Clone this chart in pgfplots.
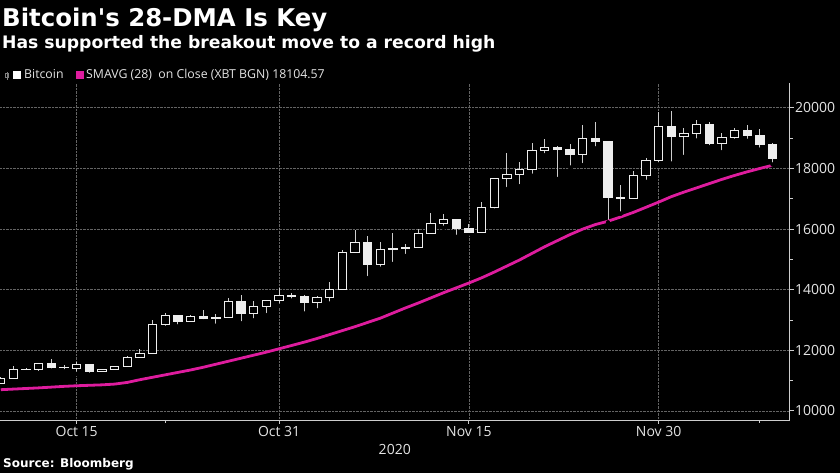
\documentclass[border=0pt]{standalone}
\usepackage{fontspec}
\usepackage{pgfplots}
\usepackage{pgfplotstable}
\pgfplotsset{compat=1.18}
\newfontfamily\dejavu{DejaVu Sans}
\newfontfamily\osans{Open Sans}
\definecolor{macol}{RGB}{222,28,158}
\definecolor{wickcol}{RGB}{205,205,205}
\definecolor{bodycol}{RGB}{238,238,238}
\definecolor{gridcol}{RGB}{100,100,100}
\definecolor{axiscol}{RGB}{205,205,205}
\definecolor{labcol}{RGB}{228,228,228}

\pgfplotstableread{
d o h l c ma
9 10900 11120 10850 11060 10700
10 11060 11470 11040 11360 10720
11 11360 11420 11300 11380 10740
12 11380 11580 11250 11550 10760
13 11550 11720 11330 11420 10785
14 11420 11520 11310 11430 10810
15 11400 11610 11220 11530 10830
16 11520 11560 11190 11300 10845
17 11300 11390 11280 11350 10860
18 11350 11480 11330 11450 10885
19 11450 11820 11420 11750 10940
20 11750 12050 11700 11910 11030
21 11910 12990 11880 12850 11110
22 12850 13230 12740 13140 11190
23 13140 13180 12790 12960 11270
24 12960 13180 12920 13120 11350
25 13120 13320 12960 13050 11440
26 13050 13210 12810 13070 11540
27 13070 13730 13040 13600 11640
28 13600 13840 12890 13230 11740
29 13230 13620 12990 13460 11840
30 13460 13660 13160 13630 11940
31 13630 14070 13470 13820 12050
32 13820 13900 13640 13790 12160
33 13790 13820 13210 13580 12270
34 13580 13780 13320 13740 12390
35 13740 14250 13540 14000 12520
36 14000 15300 13970 15240 12650
37 15240 15980 15200 15560 12780
38 15560 15760 14380 14820 12920
39 14820 15580 14690 15320 13060
40 15320 15870 14850 15370 13230
41 15370 15520 15110 15390 13400
42 15390 16010 15360 15850 13560
43 15850 16530 15800 16170 13730
44 16170 16500 16040 16310 13900
45 16310 16330 15740 16030 14060
46 16030 16170 15850 15880 14220
47 15880 16900 15850 16720 14390
48 16720 17700 16610 17670 14580
49 17670 18500 17320 17800 14780
50 17800 18200 17410 17950 14980
51 17950 18850 17760 18600 15200
52 18600 18980 18440 18690 15420
53 18690 18750 17650 18630 15620
54 18630 18800 18030 18450 15820
55 18450 19450 18110 18980 16000
56 18980 19530 18660 18900 16150
57 18900 18920 16220 17050 16260
58 17050 17450 16510 17020 16400
59 17020 17910 16940 17770 16550
60 17770 18350 17560 18270 16720
61 18270 19860 18130 19390 16890
62 19390 19910 18160 19070 17070
63 19070 19320 18380 19160 17220
64 19160 19610 18920 19460 17360
65 19460 19530 18700 18810 17500
66 18810 19180 18540 19030 17640
67 19030 19340 18910 19240 17770
68 19240 19430 18910 19080 17890
69 19080 19290 18620 18780 18000
70 18780 18850 18130 18320 18105
}\btc

\pgfplotsset{
  basebox/.style={
    at={(0pt,53pt)}, anchor=south west, scale only axis,
    width=789.5pt, height=337pt,
    xmin=8.94, xmax=71.34, ymin=9700, ymax=20820,
    enlargelimits=false, scaled y ticks=false, scaled x ticks=false,
  }
}

\begin{document}
\begin{tikzpicture}
\fill[black] (0pt,0pt) rectangle (840pt,473pt);

\begin{axis}[basebox,
  axis x line*=bottom, axis y line*=right,
  axis line style={draw=axiscol, line width=0.9pt, -},
  xtick={15,31,46,61},
  xticklabels={Oct 15,Oct 31,Nov 15,Nov 30},
  minor xtick={22,69},
  ytick={10000,12000,14000,16000,18000,20000},
  yticklabels={10000,12000,14000,16000,18000,20000},
  minor ytick={11000,13000,15000,17000,19000},
  grid=major,
  major grid style={densely dotted, draw=gridcol, line width=0.7pt},
  tick style={draw=axiscol, line width=0.9pt},
  tick align=outside,
  major tick length=4pt, minor tick length=3pt,
  ticklabel style={font=\osans\fontsize{14}{16}\selectfont, text=labcol},
  yticklabel style={anchor=west, xshift=-2pt},
  xticklabel style={anchor=north, yshift=1.5pt},
  xlabel={2020},
  xlabel style={font=\osans\fontsize{14}{16}\selectfont, text=labcol, yshift=-1pt},
]
\addplot[only marks, mark=none, forget plot,
  error bars/.cd, y dir=plus, y explicit, error mark=none,
  error bar style={draw=wickcol, line width=1pt, solid}]
  table[x=d, y=l, y error expr={\thisrow{h}-\thisrow{l}}] {\btc};
\addplot[macol, line width=2.8pt, mark=none] table[x=d, y=ma] {\btc};
\end{axis}

\begin{axis}[basebox, hide axis, ybar stacked, bar width=0.66]
\addplot[draw=none, fill=none] table[x=d, y expr={min(\thisrow{o},\thisrow{c})}] {\btc};
\addplot[draw=bodycol, fill=black, line width=1pt] table[x=d, y expr={max(\thisrow{c}-\thisrow{o},0)}] {\btc};
\addplot[draw=bodycol, fill=bodycol, line width=1pt] table[x=d, y expr={max(\thisrow{o}-\thisrow{c},0)}] {\btc};
\end{axis}

\node[anchor=base west, inner sep=0, text=white, font=\dejavu\bfseries\fontsize{24.4}{28}\selectfont] at (2pt,446pt) {Bitcoin's 28-DMA Is Key};
\node[anchor=base west, inner sep=0, text=white, font=\dejavu\bfseries\fontsize{17.2}{20}\selectfont] at (2pt,424pt) {Has supported the breakout move to a record high};
% legend
\draw[gray, line width=0.6pt] (7pt,393pt) -- (7pt,401pt);
\draw[gray, line width=0.6pt] (5.5pt,396pt) rectangle (8.5pt,399.5pt);
\fill[white] (13pt,394pt) rectangle (21pt,402pt);
\node[anchor=base west, inner sep=0, text=labcol, font=\osans\fontsize{12.3}{14}\selectfont] at (24pt,394pt) {Bitcoin};
\fill[macol] (76pt,394pt) rectangle (84pt,402pt);
\node[anchor=base west, inner sep=0, text=labcol, font=\osans\fontsize{12.3}{14}\selectfont] at (86pt,394pt) {SMAVG (28)\ \ on Close (XBT BGN) 18104.57};
\node[anchor=base west, inner sep=0, text=white, font=\dejavu\bfseries\fontsize{12}{14}\selectfont] at (3pt,5pt) {Source: Bloomberg};
\pgfresetboundingbox
\path[use as bounding box] (0pt,0pt) rectangle (840pt,473pt);
\end{tikzpicture}
\end{document}
